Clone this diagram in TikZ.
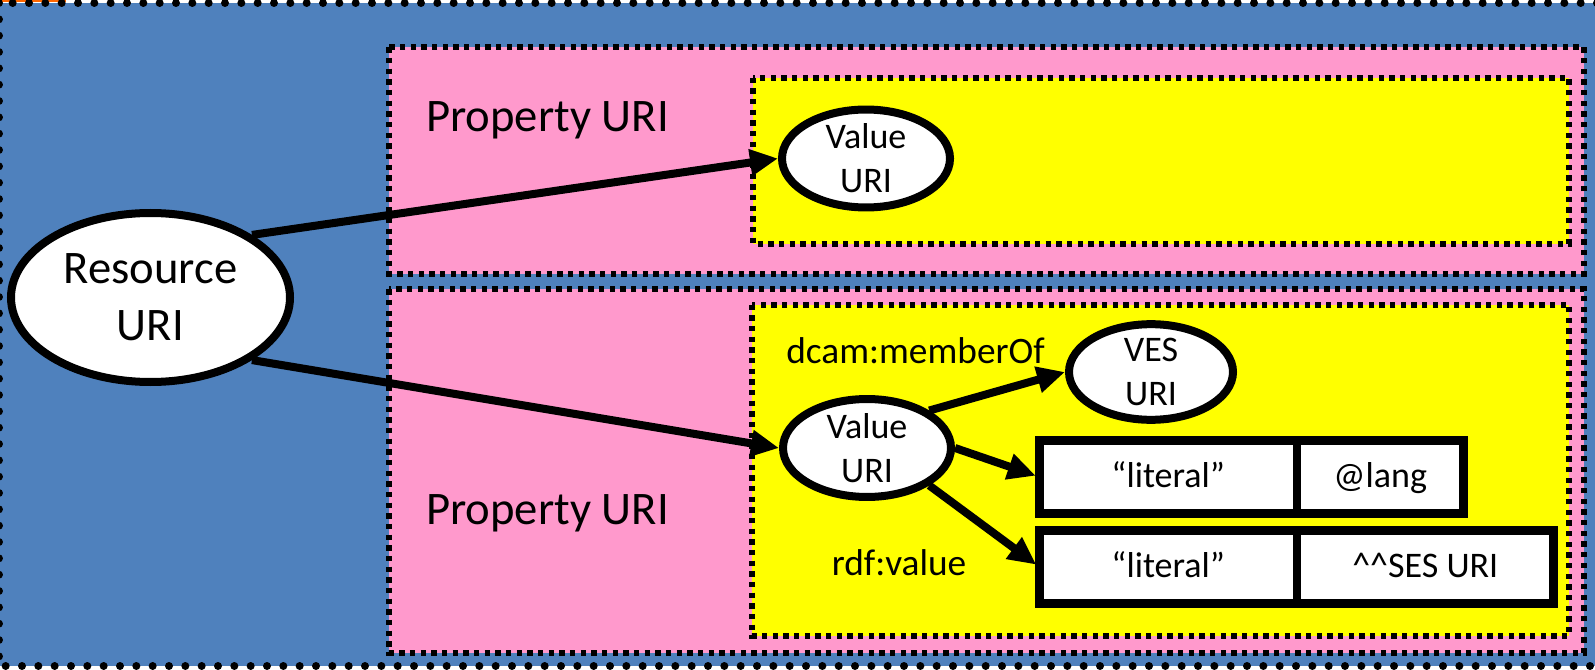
\documentclass[tikz,border=0pt]{standalone}
\usepackage{fontspec}
\setmainfont{Carlito}
\usetikzlibrary{arrows.meta,shapes.geometric}

\definecolor{slateblue}{RGB}{79,129,189}
\definecolor{panelpink}{RGB}{255,153,204}
\definecolor{boxyellow}{RGB}{255,255,0}
\definecolor{cornerorange}{RGB}{255,102,0}

\begin{document}
\begin{tikzpicture}[x=0.75pt,y=-0.75pt,
  outerframe/.style={fill=slateblue, draw=black, line width=6pt,
    line cap=round, dash pattern=on 0.01pt off 12.24pt},
  panel/.style={draw=black, line width=4.5pt, dash pattern=on 4pt off 4pt},
  bigfont/.style={font=\fontsize{35}{42.7}\selectfont},
  smallfont/.style={font=\fontsize{27}{33}\selectfont},
  labelfont/.style={font=\fontsize{28}{34}\selectfont},
  uri/.style={ellipse, draw=black, fill=white, line width=6pt,
    inner sep=0pt, align=center},
  resnode/.style={uri, bigfont, minimum width=209.25pt, minimum height=126.75pt},
  valnode/.style={uri, smallfont, minimum width=126pt, minimum height=73pt},
  vesnode/.style={uri, smallfont, minimum width=123pt, minimum height=69pt},
  cell/.style={rectangle, draw=black, fill=white, line width=6.5pt,
    outer sep=0pt, inner sep=0pt, minimum height=54.75pt,
    text height=18pt, text depth=3pt, smallfont},
  link/.style={draw=black, line width=6pt,
    -{Triangle[length=21pt,width=19pt]}},
]
\useasboundingbox (0,0) rectangle (1595,670);
\clip (0,0) rectangle (1595,670);

% page background and corner mark
\fill[white] (0,0) rectangle (1595,670);
\fill[cornerorange] (0,0) rectangle (66,2);

% outer resource frame
\path[outerframe] (-1,3) rectangle (1605,666);

% property panels
\path[panel, fill=panelpink] (389.3,47.3) rectangle (1584,274);
\path[panel, fill=panelpink] (389.3,289.3) rectangle (1584,652.7);

% value panels
\path[panel, fill=boxyellow] (753.3,77.7) rectangle (1569,244);
\path[panel, fill=boxyellow] (752.3,304.5) rectangle (1569,636);

% labels
\node[bigfont, anchor=base] (prop1) at (547.5,132) {Property URI};
\node[bigfont, anchor=base] (prop2) at (547.5,524) {Property URI};
\node[labelfont, anchor=base] (memberlbl) at (915.5,363) {dcam:memberOf};
\node[labelfont, anchor=base] (rdflbl) at (899,575) {rdf:value};

% resource and values
\node[resnode] (res) at (150.5,297.5) {Resource\\URI};
\node[valnode] (v1) at (866,158.5) {Value\\URI};
\node[valnode] (v2) at (867,448) {Value\\URI};
\node[vesnode] (ves) at (1151,372) {VES\\URI};

% literal boxes
\node[cell, minimum width=193.1pt] (lit1) at (1168.25,477) {“literal”};
\node[cell, minimum width=124.9pt] (lang1) at (1380.25,477) {@lang};
\node[cell, minimum width=193.1pt] (lit2) at (1168.25,567) {“literal”};
\node[cell, minimum width=192.4pt] (ses2) at (1425.25,567)
  {\textasciicircum\textasciicircum SES URI};

% connectors
\draw[link] (res.north east) -- (v1.west);
\draw[link] (res.south east) -- (v2.west);
\draw[link] (v2.north east) -- (ves.west);
\draw[link, shorten >=3pt] (v2.east) -- (lit1.west);
\draw[link, shorten >=3pt] (v2.south east) -- (lit2.west);
\end{tikzpicture}
\end{document}
